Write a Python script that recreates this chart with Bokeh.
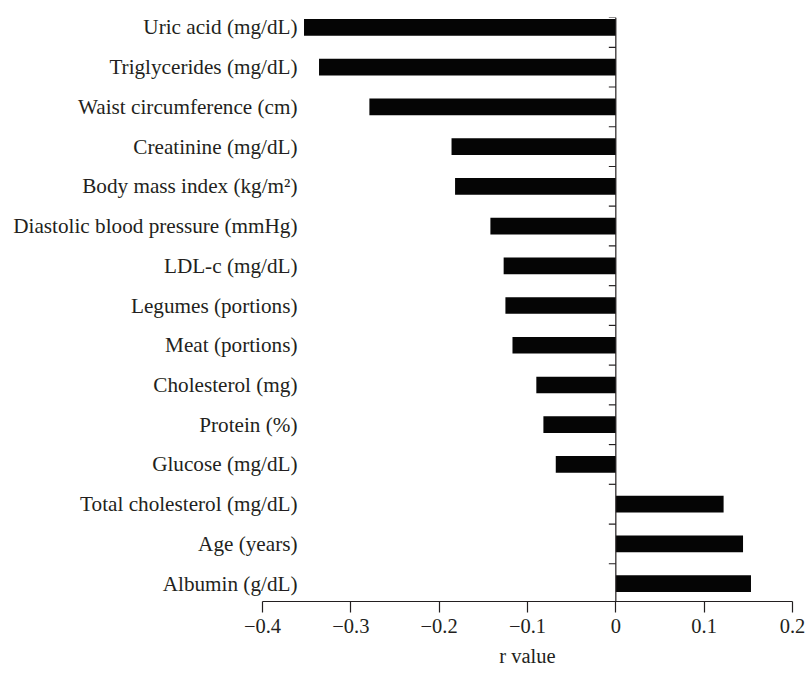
import numpy as np
from bokeh.plotting import figure
from bokeh.models import Range1d, FixedTicker, Span, ColumnDataSource
from bokeh.embed import file_html
from bokeh.resources import INLINE

categories = [
    "Uric acid (mg/dL)",
    "Triglycerides (mg/dL)",
    "Waist circumference (cm)",
    "Creatinine (mg/dL)",
    "Body mass index (kg/m²)",
    "Diastolic blood pressure (mmHg)",
    "LDL-c (mg/dL)",
    "Legumes (portions)",
    "Meat (portions)",
    "Cholesterol (mg)",
    "Protein (%)",
    "Glucose (mg/dL)",
    "Total cholesterol (mg/dL)",
    "Age (years)",
    "Albumin (g/dL)",
]
r_values = [-0.353, -0.336, -0.279, -0.186, -0.182, -0.142, -0.127, -0.125,
            -0.117, -0.090, -0.082, -0.068, 0.122, 0.144, 0.153]
x_ticks = [-0.4, -0.3, -0.2, -0.1, 0, 0.1, 0.2]
x_tick_labels = ["\u22120.4", "\u22120.3", "\u22120.2", "\u22120.1", "0", "0.1", "0.2"]

n = len(categories)
ypos = [n - 1 - i for i in range(n)]

FONT = "Liberation Serif"
TXT = "#231f20"
FS = "20.5px"
FS_CAT = "21.2px"

y_start, y_end = -0.45, (n - 1) + 0.25

p = figure(width=805, height=673, output_backend="svg", toolbar_location=None,
           x_range=Range1d(x_ticks[0], x_ticks[-1]), y_range=Range1d(y_start, y_end),
           min_border_left=262, min_border_right=13, min_border_top=17, min_border_bottom=72)
p.outline_line_color = None
p.grid.visible = False
p.background_fill_color = "white"
p.border_fill_color = "white"

src = ColumnDataSource(dict(y=ypos, r=r_values, cat=categories))
p.hbar(y="y", left=0, right="r", height=0.42, source=src,
       fill_color="#050505", line_color=None)

# zero axis line with ticks between categories
p.add_layout(Span(location=0, dimension="height", line_color="#231f20", line_width=1.2))
bounds = [y_start] + [i + 0.5 for i in range(n - 1)] + [y_end]
p.ray(x=[0] * len(bounds), y=bounds, length=7, length_units="screen", angle=np.pi,
      line_color="#231f20", line_width=1.2)

# x axis
xa = p.xaxis[0]
xa.ticker = FixedTicker(ticks=x_ticks)
xa.major_label_overrides = {t: l for t, l in zip(x_ticks, x_tick_labels)}
xa.minor_tick_line_color = None
xa.major_tick_in = 0
xa.major_tick_out = 11
xa.axis_line_color = "#231f20"
xa.major_tick_line_color = "#231f20"
xa.axis_line_width = 1.2
xa.major_tick_line_width = 1.2
xa.major_label_text_font = FONT
xa.major_label_text_font_size = FS
xa.major_label_text_color = TXT
xa.major_label_standoff = 6
xa.axis_label = "r value"
xa.axis_label_text_font = FONT
xa.axis_label_text_font_style = "normal"
xa.axis_label_text_font_size = FS
xa.axis_label_text_color = TXT
xa.axis_label_standoff = 9

# y axis: category labels only
ya = p.yaxis[0]
ya.ticker = FixedTicker(ticks=ypos)
ya.major_label_overrides = {y: c for y, c in zip(ypos, categories)}
ya.axis_line_color = None
ya.major_tick_line_color = None
ya.minor_tick_line_color = None
ya.major_tick_in = 0
ya.major_tick_out = 0
ya.major_label_standoff = -35
ya.major_label_text_font = FONT
ya.major_label_text_font_size = FS_CAT
ya.major_label_text_color = TXT

open("out.html", "w").write(file_html(p, INLINE))
